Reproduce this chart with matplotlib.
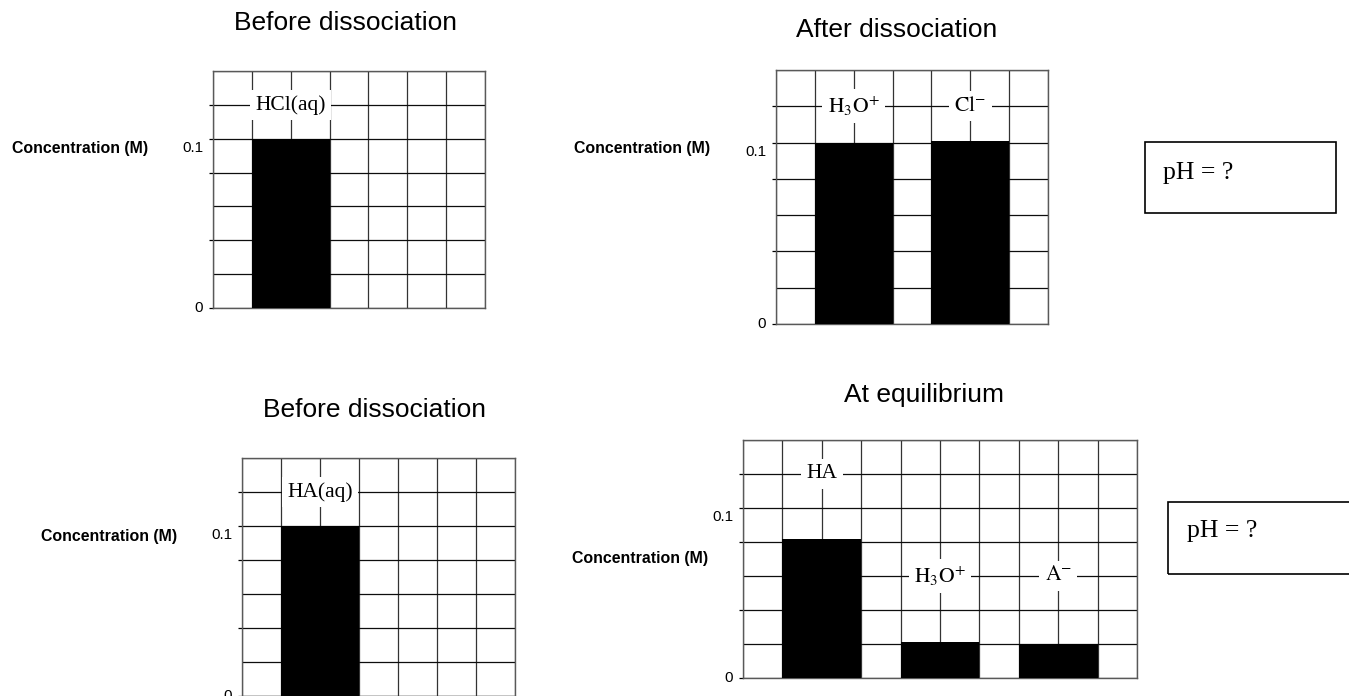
import numpy as np
import matplotlib
matplotlib.use('Agg')
import matplotlib.pyplot as plt
from matplotlib.patches import Rectangle

# ---------------- data ----------------
strong_before_labels = ['HCl(aq)']
strong_before_values = [0.1]

strong_after_labels = [r'$\mathrm{H_3O^{+}}$', r'$\mathrm{Cl^{-}}$']
strong_after_values = [0.1, 0.101]

weak_before_labels = ['HA(aq)']
weak_before_values = [0.1]

weak_eq_labels = ['HA', r'$\mathrm{H_3O^{+}}$', r'$\mathrm{A^{-}}$']
weak_eq_values = [0.082, 0.021, 0.020]

y_tick_values = [0, 0.04, 0.08, 0.1, 0.12]
y_tick_labels = ['0', '', '', '0.1', '']

panel_titles = ['Before dissociation', 'After dissociation',
                'Before dissociation', 'At equilibrium']
y_axis_label = 'Concentration (M)'
ph_text = 'pH = ?'

# ---------------- style ----------------
W, H, DPI = 1349, 696, 100
plt.rcParams['font.family'] = ['Liberation Sans', 'DejaVu Sans']
plt.rcParams['mathtext.fontset'] = 'stix'
SERIF = ['Liberation Serif', 'DejaVu Serif']

fig = plt.figure(figsize=(W / DPI, H / DPI), dpi=DPI)
fig.patch.set_facecolor('white')


def px_rect(x0, y0, x1, y1):
    return [x0 / W, 1 - y1 / H, (x1 - x0) / W, (y1 - y0) / H]


def draw_panel(rect, ncols, centers, values, labels, label_y):
    ax = fig.add_axes(px_rect(*rect))
    ax.set_xlim(0, ncols)
    ax.set_ylim(0, 0.14)
    ax.set_xticks(np.arange(ncols + 1))
    ax.tick_params(axis='x', length=0, labelbottom=False)
    ax.set_yticks(y_tick_values)
    ax.set_yticklabels([''] * len(y_tick_values))
    ax.set_yticks(np.linspace(0, 0.14, 8), minor=True)
    ax.tick_params(axis='y', which='major', direction='out', length=3,
                   width=0.9, color='black')
    ax.tick_params(axis='y', which='minor', length=0)
    ax.grid(True, which='major', axis='x', color='0.2', lw=0.9)
    ax.grid(True, which='both', axis='y', color='0.05', lw=0.9)
    ax.set_axisbelow(True)
    for s in ax.spines.values():
        s.set_color('0.35')
        s.set_linewidth(1.0)
    ax.bar(centers, values, width=2, color='black', edgecolor='none',
           zorder=3)
    for c, lab, ly in zip(centers, labels, label_y):
        ax.text(c, ly, lab, ha='center', va='center', fontsize=15.5,
                family=SERIF, zorder=5,
                bbox=dict(boxstyle='square,pad=0.25', fc='white',
                          ec='none'))
    for v, s in zip(y_tick_values, y_tick_labels):
        if s:
            dy = -6.5 if v > 0 else 0
            ax.annotate(s, xy=(0, v), xycoords=('axes fraction', 'data'),
                        xytext=(-7, dy), textcoords='offset points',
                        ha='right', va='center', fontsize=11)
    return ax


draw_panel((213, 71, 485, 308), 7, [2], strong_before_values,
           strong_before_labels, [0.12])
draw_panel((776, 70, 1048, 324), 7, [2, 5], strong_after_values,
           strong_after_labels, [0.12, 0.12])
draw_panel((242, 458, 515, 696), 7, [2], weak_before_values,
           weak_before_labels, [0.12])
draw_panel((743, 440, 1137, 678), 10, [2, 5, 8], weak_eq_values,
           weak_eq_labels, [0.12, 0.06, 0.06])

# titles
for (x, y), t in zip([(345, 23), (897, 30), (375, 410), (924, 395)],
                     panel_titles):
    fig.text(x / W, 1 - y / H, t, ha='center', va='center', fontsize=19)

# y-axis labels
for (x, y) in [(80, 148), (642, 148), (109, 536), (640, 558)]:
    fig.text(x / W, 1 - y / H, y_axis_label, ha='center', va='center',
             fontsize=11.4, fontweight='bold')

# pH boxes
for (x0, y0, x1, y1), (tx, ty) in zip(
        [(1145, 142, 1336, 213), (1168, 502, 1400, 574)],
        [(1163, 173), (1187, 531)]):
    fig.add_artist(Rectangle((x0 / W, 1 - y1 / H), (x1 - x0) / W,
                             (y1 - y0) / H, transform=fig.transFigure,
                             fill=False, ec='black', lw=1.2))
    fig.text(tx / W, 1 - ty / H, ph_text, ha='left', va='center',
             fontsize=18.5, family=SERIF)

fig.savefig('out.png', dpi=DPI, facecolor='white')
